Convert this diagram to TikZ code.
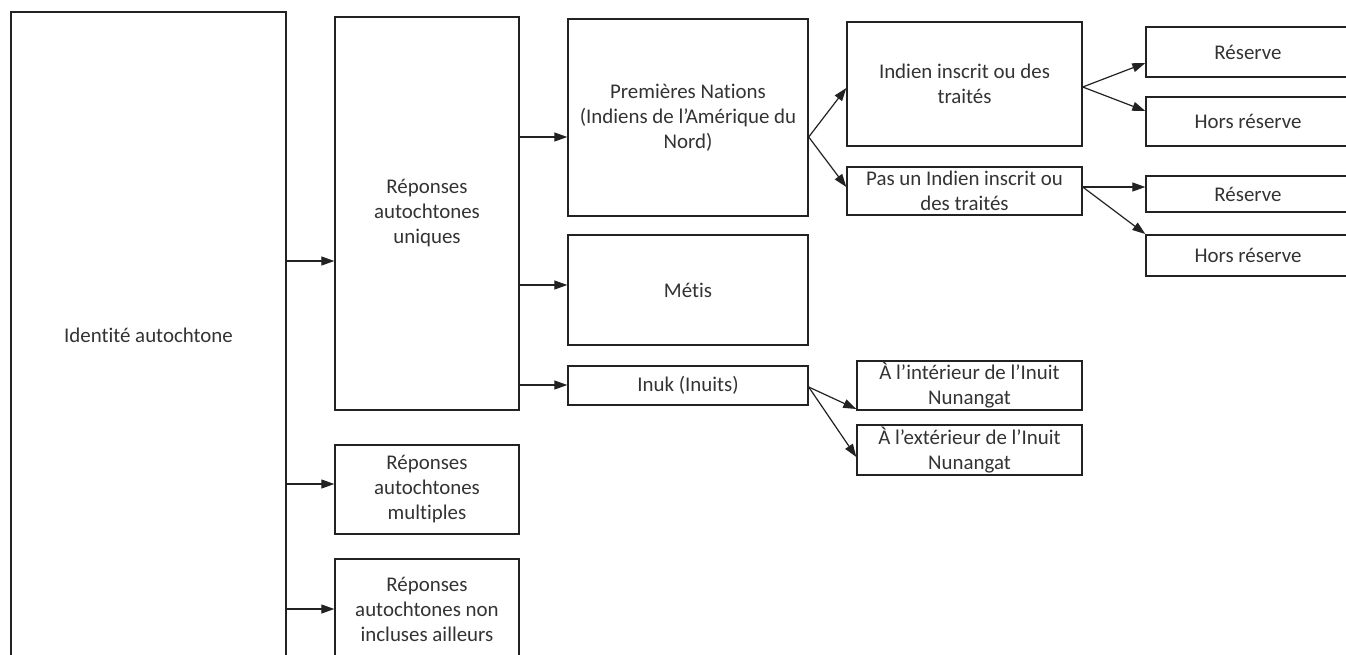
\documentclass[tikz,border=0pt]{standalone}
\usepackage{fontspec}
\setmainfont{Carlito}[Ligatures={NoCommon,NoRare}]
\usetikzlibrary{arrows.meta}
\definecolor{linec}{HTML}{222222}
\definecolor{textc}{HTML}{333333}
\begin{document}
\begin{tikzpicture}[x=1pt,y=-1pt,
  box/.style={draw=linec, line width=1.4pt, rectangle, align=center, inner sep=0pt, text=textc, font=\fontsize{20.9}{25}\selectfont},
  arr/.style={draw=linec, line width=1.2pt, -{Triangle[length=13pt,width=9pt]}}]
\useasboundingbox (0,0) rectangle (1346,654);
\fill[white] (0,0) rectangle (1346,654);
% level 0
\node[box, minimum width=275pt, minimum height=646pt] (ident) at (148.5,335) {Identité autochtone};
% level 1
\node[box, minimum width=184pt, minimum height=393pt] (uniq) at (427,213.5) {Réponses\\autochtones\\uniques};
\node[box, minimum width=184pt, minimum height=89pt] (mult) at (427,489.5) {Réponses\\autochtones\\multiples};
\node[box, minimum width=184pt, minimum height=100pt] (nonin) at (427,609) {Réponses\\autochtones non\\incluses ailleurs};
% level 2
\node[box, minimum width=240pt, minimum height=197pt] (pn) at (688,117.5) {Premières Nations\\(Indiens de l’Amérique du\\Nord)};
\node[box, minimum width=240pt, minimum height=110pt] (metis) at (688,290) {Métis};
\node[box, minimum width=240pt, minimum height=39pt] (inuk) at (688,385.5) {Inuk (Inuits)};
% level 3
\node[box, minimum width=235pt, minimum height=124pt] (ind) at (964.5,84) {Indien inscrit ou des\\traités};
\node[box, minimum width=235pt, minimum height=48pt] (pas) at (964.5,191) {Pas un Indien inscrit ou\\des traités};
\node[box, minimum width=225pt, minimum height=49pt] (int) at (969.5,385.5) {À l’intérieur de l’Inuit\\Nunangat};
\node[box, minimum width=225pt, minimum height=50pt] (ext) at (969.5,450) {À l’extérieur de l’Inuit\\Nunangat};
% level 4
\node[box, minimum width=204pt, minimum height=50pt] (res1) at (1248,52) {Réserve};
\node[box, minimum width=204pt, minimum height=49pt] (hors1) at (1248,121.5) {Hors réserve};
\node[box, minimum width=204pt, minimum height=36pt] (res2) at (1248,194) {Réserve};
\node[box, minimum width=204pt, minimum height=41pt] (hors2) at (1248,255.5) {Hors réserve};
% connectors
\draw[arr] (ident.east |- 0,261) -- (uniq.west |- 0,261);
\draw[arr] (ident.east |- 0,484) -- (mult.west |- 0,484);
\draw[arr] (ident.east |- 0,609) -- (nonin.west |- 0,609);
\draw[arr] (uniq.east |- 0,137) -- (pn.west |- 0,137);
\draw[arr] (uniq.east |- 0,285) -- (metis.west |- 0,285);
\draw[arr] (uniq.east |- 0,385) -- (inuk.west |- 0,385);
\draw[arr] (pn.east |- 0,137) -- (ind.west |- 0,88);
\draw[arr] (pn.east |- 0,137) -- (pas.west |- 0,187);
\draw[arr] (ind.east |- 0,87) -- (res1.west |- 0,63);
\draw[arr] (ind.east |- 0,87) -- (hors1.west |- 0,111);
\draw[arr] (pas.east |- 0,187) -- (res2.west |- 0,187);
\draw[arr] (pas.east |- 0,187) -- (hors2.west |- 0,234);
\draw[arr] (inuk.east |- 0,387) -- (int.west |- 0,409);
\draw[arr] (inuk.east |- 0,387) -- (ext.west |- 0,457);
\end{tikzpicture}
\end{document}
